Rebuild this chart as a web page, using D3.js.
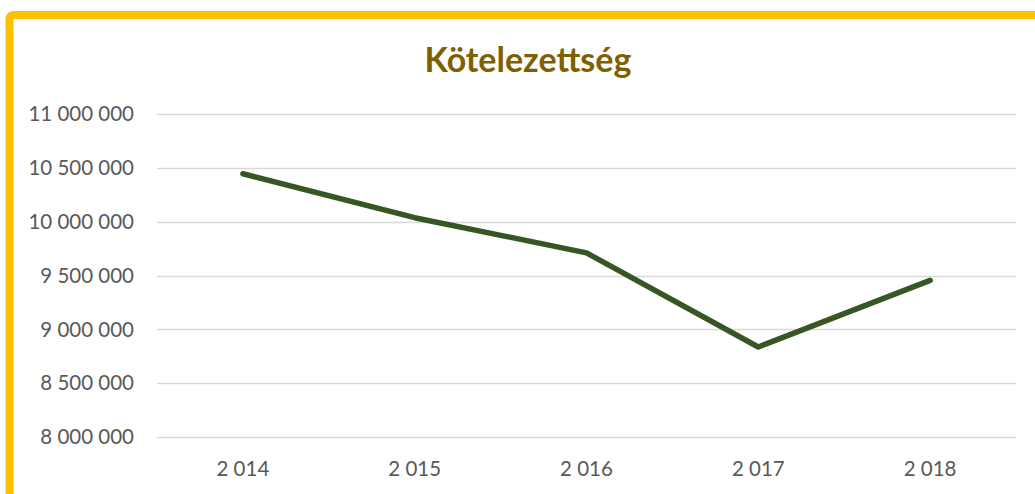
<!DOCTYPE html>
<html>
<head>
<meta charset="utf-8">
<script src="https://cdn.jsdelivr.net/npm/d3@7"></script>
<style>
  html, body { margin: 0; padding: 0; background: #fff; }
  svg { display: block; }
</style>
</head>
<body>
<svg id="chart" width="1035" height="494"></svg>
<script>
var years = [ "2 014", "2 015", "2 016", "2 017", "2 018" ];
var values = [ 10445000, 10037000, 9710000, 8836000, 9455000 ];
var y_ticks = [ 8000000, 8500000, 9000000, 9500000, 10000000, 10500000, 11000000 ];
var chart_title = "Kötelezettség";

var svg = d3.select( "#chart" );
var MARGIN = { left: 157, right: 19, top: 114, bottom: 57 };
var width = 1035, height = 494;

// yellow frame (runs off the right and bottom edge)
svg.append( "rect" )
  .attr( "x", 9.5 )
  .attr( "y", 15 )
  .attr( "width", 1060 )
  .attr( "height", 520 )
  .attr( "rx", 4 )
  .style( "fill", "#fff" )
  .style( "stroke", "#FFC000" )
  .style( "stroke-width", "8px" );

var x = d3.scaleBand()
  .domain( years )
  .range( [ MARGIN.left, width - MARGIN.right ] )
  .paddingInner( 0 )
  .paddingOuter( 0 );

var y = d3.scaleLinear()
  .domain( [ 8000000, 11000000 ] )
  .range( [ height - MARGIN.bottom, MARGIN.top ] );

var fmt = function( v ){
  return d3.format( ",d" )( v ).replace( /,/g, " " );
};

// grid lines
svg.append( "g" )
  .selectAll( "line" )
  .data( y_ticks )
  .enter()
  .append( "line" )
  .attr( "x1", MARGIN.left )
  .attr( "x2", width - MARGIN.right )
  .attr( "y1", function( d ){ return Math.round( y( d ) ) + 0.5; } )
  .attr( "y2", function( d ){ return Math.round( y( d ) ) + 0.5; } )
  .style( "stroke", "#D9D9D9" )
  .style( "stroke-width", "1.5px" );

// y labels
svg.append( "g" )
  .selectAll( "text" )
  .data( y_ticks )
  .enter()
  .append( "text" )
  .attr( "x", 134 )
  .attr( "y", function( d ){ return y( d ); } )
  .attr( "dy", "0.35em" )
  .attr( "text-anchor", "end" )
  .style( "font-family", "Lato, 'Open Sans', sans-serif" )
  .style( "font-size", "20.5px" )
  .style( "fill", "#595959" )
  .text( fmt );

// x labels
svg.append( "g" )
  .selectAll( "text" )
  .data( years )
  .enter()
  .append( "text" )
  .attr( "x", function( d ){ return x( d ) + x.bandwidth() / 2; } )
  .attr( "y", 469 )
  .attr( "dy", "0.35em" )
  .attr( "text-anchor", "middle" )
  .style( "font-family", "Lato, 'Open Sans', sans-serif" )
  .style( "font-size", "20.5px" )
  .style( "fill", "#595959" )
  .text( function( d ){ return d; } );

// line
var line = d3.line()
  .x( function( d, i ){ return x( years[ i ] ) + x.bandwidth() / 2; } )
  .y( function( d ){ return y( d ); } );

svg.append( "path" )
  .datum( values )
  .attr( "d", line )
  .style( "fill", "none" )
  .style( "stroke", "#375623" )
  .style( "stroke-width", "5.5px" )
  .style( "stroke-linecap", "round" )
  .style( "stroke-linejoin", "round" );

// title
svg.append( "text" )
  .attr( "x", 528 )
  .attr( "y", 72 )
  .attr( "text-anchor", "middle" )
  .style( "font-family", "Lato, 'Open Sans', sans-serif" )
  .style( "font-weight", "bold" )
  .style( "font-size", "34px" )
  .style( "fill", "#7F6000" )
  .text( chart_title );
</script>
</body>
</html>
